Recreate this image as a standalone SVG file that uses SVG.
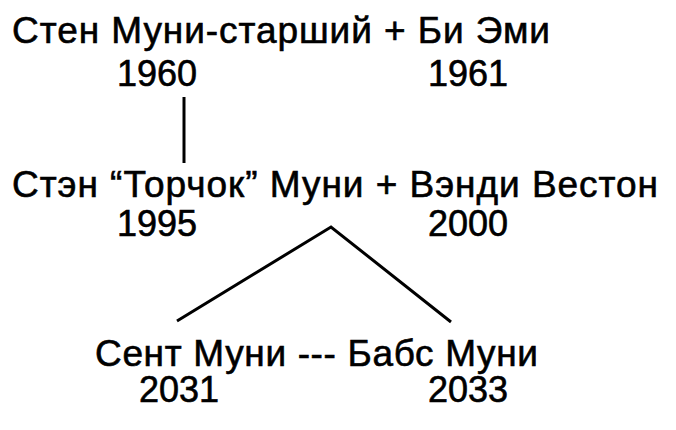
<svg xmlns="http://www.w3.org/2000/svg" width="676" height="430" viewBox="0 0 676 430">
<style>
  text { font-family: "Liberation Sans", Arial, sans-serif; fill: #000; stroke: #000; stroke-width: 0.6px; }
  .name { font-size: 37px; }
  .year { font-size: 36px; }
  .conn { stroke: #000; stroke-width: 3; fill: none; stroke-linejoin: miter; }
</style>
<rect width="676" height="430" fill="#fff"/>
<g id="gen1">
  <text class="name" x="12" y="43" textLength="538" lengthAdjust="spacing">Стен Муни-старший + Би Эми</text>
  <text class="year" x="117" y="86">1960</text>
  <text class="year" x="428" y="86">1961</text>
</g>
<g id="gen2">
  <text class="name" x="12" y="197" textLength="646" lengthAdjust="spacing">Стэн “Торчок” Муни + Вэнди Вестон</text>
  <text class="year" x="117" y="236">1995</text>
  <text class="year" x="428" y="236">2000</text>
</g>
<g id="gen3">
  <text class="name" x="95" y="366" textLength="443" lengthAdjust="spacing">Сент Муни --- Бабс Муни</text>
  <text class="year" x="139" y="402">2031</text>
  <text class="year" x="428" y="402">2033</text>
</g>
<g id="connectors">
  <line class="conn" x1="184" y1="97" x2="184" y2="163"/>
  <polyline class="conn" points="177,321 331,227 451,322"/>
</g>
</svg>
